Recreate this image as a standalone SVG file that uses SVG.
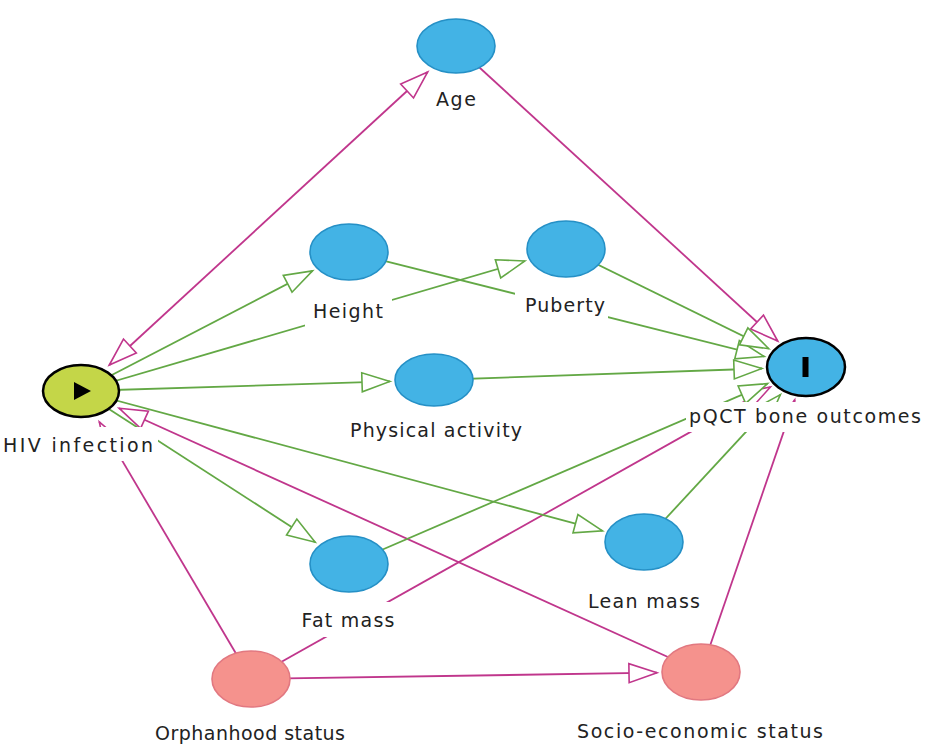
<svg xmlns="http://www.w3.org/2000/svg" width="925" height="746" viewBox="0 0 925 746">
<style>
.bg{fill:#ffffff}
.mg{stroke:#C0368C;stroke-width:1.8;fill:none}
.gr{stroke:#63A845;stroke-width:1.8;fill:none}
.blue{fill:#43B3E5;stroke:#2590C6;stroke-width:1.6}
.pink{fill:#F5928D;stroke:#E27880;stroke-width:1.6}
.lb{fill:#ffffff}
.t{font-family:"DejaVu Sans","Liberation Sans",sans-serif;font-size:19px;fill:#222;text-anchor:middle}
</style>
<defs>
<marker id="am" markerUnits="userSpaceOnUse" markerWidth="40" markerHeight="40" refX="0" refY="0" orient="auto" overflow="visible"><polygon points="0,0 -28,-9.5 -28,9.5" fill="#fff" stroke="#C0368C" stroke-width="1.6"/></marker>
<marker id="ams" markerUnits="userSpaceOnUse" markerWidth="40" markerHeight="40" refX="0" refY="0" orient="auto" overflow="visible"><polygon points="0,0 28,-9.5 28,9.5" fill="#fff" stroke="#C0368C" stroke-width="1.6"/></marker>
<marker id="ag" markerUnits="userSpaceOnUse" markerWidth="40" markerHeight="40" refX="0" refY="0" orient="auto" overflow="visible"><polygon points="0,0 -28,-9.5 -28,9.5" fill="#fff" stroke="#63A845" stroke-width="1.6"/></marker>
</defs>
<rect class="bg" x="0" y="0" width="925" height="746"/>
<g id="connectors">
<line class="mg" x1="109.3" y1="365" x2="427.7" y2="72" marker-start="url(#ams)" marker-end="url(#am)"/>
<line class="mg" x1="456" y1="46" x2="777.7" y2="341" marker-end="url(#am)"/>
<line class="mg" x1="251" y1="679" x2="99.3" y2="421.9" marker-end="url(#am)"/>
<line class="mg" x1="251" y1="679" x2="770.4" y2="387" marker-end="url(#am)"/>
<line class="mg" x1="251" y1="679" x2="657" y2="672.7" marker-end="url(#am)"/>
<line class="mg" x1="701" y1="672" x2="119" y2="408.2" marker-end="url(#am)"/>
<line class="mg" x1="701" y1="672" x2="794.7" y2="399.9" marker-end="url(#am)"/>
<line class="gr" x1="81" y1="391" x2="312.5" y2="270.9" marker-end="url(#ag)"/>
<line class="gr" x1="81" y1="391" x2="524.9" y2="261" marker-end="url(#ag)"/>
<line class="gr" x1="81" y1="391" x2="390" y2="381.4" marker-end="url(#ag)"/>
<line class="gr" x1="81" y1="391" x2="315.2" y2="542.2" marker-end="url(#ag)"/>
<line class="gr" x1="81" y1="391" x2="602.5" y2="530.9" marker-end="url(#ag)"/>
<line class="gr" x1="349" y1="252" x2="764.2" y2="356.5" marker-end="url(#ag)"/>
<line class="gr" x1="566" y1="249" x2="768.8" y2="348.7" marker-end="url(#ag)"/>
<line class="gr" x1="434" y1="380" x2="762" y2="368.5" marker-end="url(#ag)"/>
<line class="gr" x1="349" y1="564" x2="767.6" y2="383.6" marker-end="url(#ag)"/>
<line class="gr" x1="644" y1="542" x2="780.4" y2="394.6" marker-end="url(#ag)"/>
</g>
<g id="age">
<ellipse class="blue" cx="456" cy="46" rx="39" ry="27"/>
<rect class="lb" x="430" y="84" width="52" height="30"/>
<text class="t" x="456" y="106" textLength="40" lengthAdjust="spacing">Age</text>
</g>
<g id="height">
<ellipse class="blue" cx="349" cy="252" rx="39" ry="28"/>
<rect class="lb" x="305" y="293" width="87" height="34"/>
<text class="t" x="348" y="318" textLength="70" lengthAdjust="spacing">Height</text>
</g>
<g id="puberty">
<ellipse class="blue" cx="566" cy="249" rx="39" ry="28"/>
<rect class="lb" x="515" y="288" width="93" height="33"/>
<text class="t" x="565" y="312" textLength="80" lengthAdjust="spacing">Puberty</text>
</g>
<g id="physical-activity">
<ellipse class="blue" cx="434" cy="380" rx="39" ry="26"/>
<rect class="lb" x="345" y="413" width="183" height="32"/>
<text class="t" x="436" y="437" textLength="172" lengthAdjust="spacing">Physical activity</text>
</g>
<g id="fat-mass">
<ellipse class="blue" cx="349" cy="564" rx="39" ry="28"/>
<rect class="lb" x="298" y="602" width="102" height="35"/>
<text class="t" x="348" y="627" textLength="93" lengthAdjust="spacing">Fat mass</text>
</g>
<g id="lean-mass">
<ellipse class="blue" cx="644" cy="542" rx="39" ry="28"/>
<rect class="lb" x="590" y="585" width="108" height="31"/>
<text class="t" x="644" y="608" textLength="112" lengthAdjust="spacing">Lean mass</text>
</g>
<g id="hiv-infection">
<ellipse cx="81" cy="391" rx="38" ry="26" fill="#C4D648" stroke="#000" stroke-width="2.5"/>
<polygon points="74,382 74,400 91,391" fill="#000"/>
<rect class="lb" x="0" y="427" width="158" height="34"/>
<text class="t" x="78" y="452" textLength="150" lengthAdjust="spacing">HIV infection</text>
</g>
<g id="pqct">
<ellipse cx="806" cy="367" rx="39" ry="29" fill="#43B3E5" stroke="#000" stroke-width="2.5"/>
<rect x="802.5" y="357" width="6" height="20" fill="#000"/>
<rect class="lb" x="686" y="402" width="239" height="30"/>
<text class="t" x="805" y="423" textLength="232" lengthAdjust="spacing">pQCT bone outcomes</text>
</g>
<g id="orphanhood-status">
<ellipse class="pink" cx="251" cy="679" rx="39" ry="28"/>
<rect class="lb" x="150" y="715" width="200" height="31"/>
<text class="t" x="250" y="740" textLength="190" lengthAdjust="spacing">Orphanhood status</text>
</g>
<g id="socio-economic-status">
<ellipse class="pink" cx="701" cy="672" rx="39" ry="28"/>
<rect class="lb" x="572" y="713" width="256" height="33"/>
<text class="t" x="700" y="738" textLength="246" lengthAdjust="spacing">Socio-economic status</text>
</g>
</svg>
